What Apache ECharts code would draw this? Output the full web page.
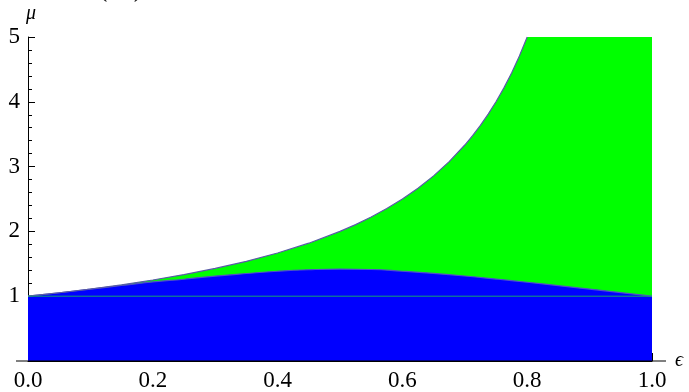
<!DOCTYPE html>
<html>
<head>
<meta charset="utf-8">
<script src="https://cdn.jsdelivr.net/npm/echarts@6/dist/echarts.min.js"></script>
<style>
html,body{margin:0;padding:0;background:#fff;}
#c{width:689px;height:392px;}
</style>
</head>
<body>
<div id="c"></div>
<script>
// Values
var upperEps = [0, 0.05, 0.1, 0.15, 0.2, 0.25, 0.3, 0.35, 0.4, 0.45, 0.5, 0.525, 0.55, 0.575, 0.6, 0.625, 0.65, 0.675, 0.7, 0.7125, 0.725, 0.7375, 0.75, 0.7625, 0.775, 0.7875, 0.8];
var upperMu  = [1, 1.053, 1.111, 1.176, 1.25, 1.333, 1.429, 1.538, 1.667, 1.818, 2.0, 2.105, 2.222, 2.353, 2.5, 2.667, 2.857, 3.077, 3.333, 3.478, 3.636, 3.81, 4.0, 4.211, 4.444, 4.706, 5.0];
var capEps = [0.8, 1.0];
var capMu  = [5.0, 5.0];
var lowerEps = [0, 0.05, 0.1, 0.15, 0.2, 0.25, 0.3, 0.35, 0.4, 0.45, 0.5, 0.55, 0.6, 0.65, 0.7, 0.75, 0.8, 0.85, 0.9, 0.95, 1.0];
var lowerMu  = [1, 1.053, 1.108, 1.165, 1.22, 1.262, 1.31, 1.35, 1.385, 1.408, 1.418, 1.412, 1.385, 1.352, 1.312, 1.265, 1.215, 1.163, 1.11, 1.055, 1.0];
var baseEps = [0, 1];
var baseMu  = [1, 1];
var xTicks = ['0.0', '0.2', '0.4', '0.6', '0.8', '1.0'];
var yTicks = ['', '1', '2', '3', '4', '5'];

function pairs(xs, ys) { return xs.map(function (x, i) { return [x, ys[i]]; }); }

var greenData = pairs(upperEps, upperMu).concat(pairs(capEps, capMu).slice(1));
var chart = echarts.init(document.getElementById('c'), null, {renderer: 'canvas'});
var serif = 'Liberation Serif';
var axisCol = '#000';
var txtCol = '#000';

chart.setOption({
  animation: false,
  grid: {left: 28, right: 37, top: 37, bottom: 31},
  xAxis: {
    type: 'value', min: 0, max: 1, interval: 0.2,
    axisLine: {show: true, lineStyle: {color: axisCol, width: 1}},
    axisTick: {show: true, inside: true, length: 8, lineStyle: {color: axisCol}},
    minorTick: {show: true, splitNumber: 4, length: 5, lineStyle: {color: axisCol}},
    splitLine: {show: false},
    axisLabel: {fontFamily: serif, fontSize: 23, color: txtCol, margin: 8,
      formatter: function (v) { return xTicks[Math.round(v / 0.2)]; }},
    name: 'ϵ', nameLocation: 'end', nameGap: 23,
    nameTextStyle: {fontFamily: serif, fontSize: 20, fontStyle: 'italic', color: txtCol, verticalAlign: 'middle'}
  },
  yAxis: {
    type: 'value', min: 0, max: 5, interval: 1,
    axisLine: {show: true, lineStyle: {color: axisCol, width: 1}},
    axisTick: {show: true, inside: true, length: 7, lineStyle: {color: axisCol}},
    minorTick: {show: true, splitNumber: 5, length: 4, lineStyle: {color: axisCol}},
    splitLine: {show: false},
    axisLabel: {fontFamily: serif, fontSize: 23, color: txtCol, margin: 8,
      formatter: function (v) { return yTicks[Math.round(v)]; }},
    name: 'μ', nameLocation: 'end', nameGap: 13,
    nameTextStyle: {fontFamily: serif, fontSize: 20, fontStyle: 'italic', color: txtCol, align: 'left', padding: [0, 0, 0, -2]}
  },
  series: [
    {type: 'line', data: greenData, symbol: 'none', z: 1,
      lineStyle: {width: 0}, areaStyle: {color: '#00ff00', opacity: 1}},
    {type: 'line', data: pairs(lowerEps, lowerMu), symbol: 'none', smooth: true, z: 2,
      lineStyle: {width: 1.2, color: '#5050c8'}, areaStyle: {color: '#0000ff', opacity: 1}},
    {type: 'line', data: pairs(upperEps, upperMu), symbol: 'none', z: 3,
      lineStyle: {width: 1.2, color: '#5a5aa8'}},
    {type: 'line', data: pairs(baseEps, baseMu), symbol: 'none', z: 3,
      lineStyle: {width: 1, color: '#14a070'}}
  ]
});

var p0 = chart.convertToPixel({gridIndex: 0}, [0, 0]);
var p1 = chart.convertToPixel({gridIndex: 0}, [1, 0]);
chart.setOption({
  graphic: [
    {type: 'line', shape: {x1: p0[0] - 12, y1: p0[1], x2: p1[0] + 14, y2: p1[1]},
      style: {stroke: axisCol, lineWidth: 1}, z: 10},
    {type: 'text', left: 98, top: -25,
      style: {text: '( a )', fontFamily: serif, fontSize: 28, fill: txtCol}}
  ]
});
</script>
</body>
</html>
